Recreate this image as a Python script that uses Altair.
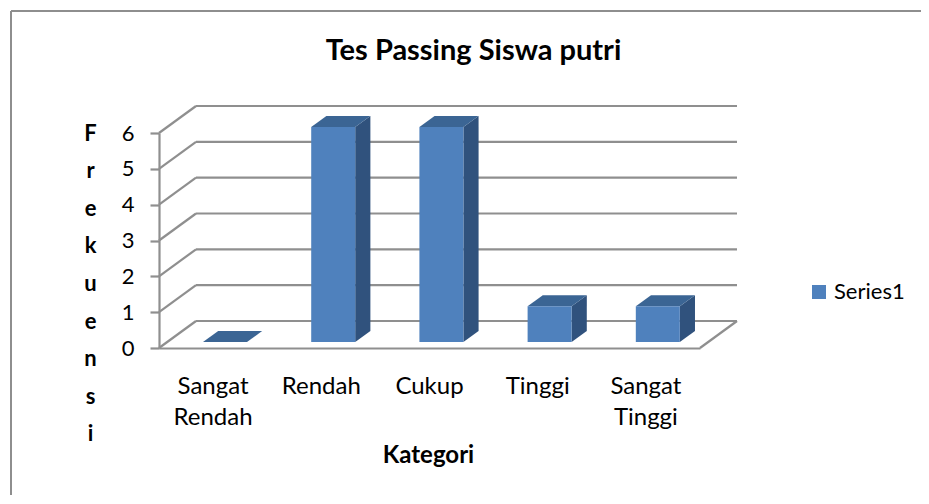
import altair as alt
import pandas as pd

# ---------------- data ----------------
categories = ["Sangat Rendah", "Rendah", "Cukup", "Tinggi", "Sangat Tinggi"]
label_text = ["Sangat\nRendah", "Rendah", "Cukup", "Tinggi", "Sangat\nTinggi"]
values = [0, 6, 6, 1, 1]
y_ticks = [0, 1, 2, 3, 4, 5, 6]
series_name = "Series1"
title_text = "Tes Passing Siswa putri"
y_title = "Frekuensi"
x_title = "Kategori"

# ---------------- 3D projection (in data units) ----------------
N = len(categories)
YMAX = max(y_ticks)
DX, DV = 0.342, 0.7535          # shift of the back wall (x units, value units)
D0, D1 = 0.22, 0.63             # bar front / back depth
BAR_OFF, BAR_W = 0.3315, 0.4067 # bar left offset and width in category units

FRONT = "#4f81bd"
SIDE = "#30527d"
TOP = "#3b6594"
GRID = "#8f8f8f"
FONT = "Lato"

xs = alt.Scale(domain=[0, N], nice=False, zero=False)
ys = alt.Scale(domain=[0, YMAX], nice=False, zero=False)

# gridlines / walls
grid_rows = []
for v in y_ticks:
    grid_rows.append(dict(x=DX, x2=N + DX, y=v + DV, y2=v + DV))
    grid_rows.append(dict(x=0, x2=DX, y=v, y2=v + DV))
grid_rows.append(dict(x=N, x2=N + DX, y=0, y2=DV))
grid_df = pd.DataFrame(grid_rows)

front_rows, side_rows, top_rows, lab_rows = [], [], [], []
for i, (c, v) in enumerate(zip(categories, values)):
    xl = i + BAR_OFF + D0 * DX
    xr = xl + BAR_W
    sh = (D1 - D0) * DX
    front_rows.append(dict(cat=c, xl=xl, xr=xr, yb=D0 * DV, yt=v + D0 * DV, series=series_name))
    if v > 0:
        side_rows.append(dict(cat=c, x=xr, top=v + D0 * DV, bot=D0 * DV))
        side_rows.append(dict(cat=c, x=xr + sh, top=v + D1 * DV, bot=D1 * DV))
    top_rows.append(dict(cat=c, y=v + D0 * DV, xa=xl, xb=xr))
    top_rows.append(dict(cat=c, y=v + D1 * DV, xa=xl + sh, xb=xr + sh))
    lab_rows.append(dict(cat=c, lx=i + 0.5, txt=label_text[i]))

front_df = pd.DataFrame(front_rows)
side_df = pd.DataFrame(side_rows)
top_df = pd.DataFrame(top_rows)
lab_df = pd.DataFrame(lab_rows)
one = pd.DataFrame({"a": [0]})

x_axis = alt.Axis(labels=False, ticks=False, grid=False, domainColor=GRID,
                  domainWidth=2.2, title=x_title, titleFont=FONT, titleFontSize=24,
                  titleFontWeight="bold", titleColor="black", titleX=269, titleY=114,
                  titleBaseline="alphabetic", titleAlign="center")
y_axis = alt.Axis(values=y_ticks, tickCount=len(y_ticks), grid=False, tickSize=9,
                  tickColor=GRID, tickWidth=2.2,
                  domainColor=GRID, domainWidth=2.2, labelFont=FONT, labelFontSize=22,
                  labelColor="black", labelPadding=16, labelBaseline="middle",
                  labelOverlap=False,
                  title=list(y_title), titleAngle=0, titleX=-69, titleY=7,
                  titleBaseline="alphabetic", titleAlign="center",
                  titleLineHeight=37.6, titleFont=FONT, titleFontSize=22,
                  titleFontWeight="bold", titleColor="black")

# ---------------- layers ----------------
border_left = alt.Chart(one).mark_rule(color="#8e8e8e", strokeWidth=2).encode(
    x=alt.value(-148), y=alt.value(-122), y2=alt.value(362))
border_top = alt.Chart(one).mark_rule(color="#8e8e8e", strokeWidth=2).encode(
    x=alt.value(-148), x2=alt.value(762), y=alt.value(-122))

grid = alt.Chart(grid_df).mark_rule(color=GRID, strokeWidth=2.2).encode(
    x=alt.X("x:Q", scale=xs, axis=x_axis),
    x2="x2:Q",
    y=alt.Y("y:Q", scale=ys, axis=y_axis),
    y2="y2:Q",
)

side = alt.Chart(side_df).mark_area(orient="vertical", color=SIDE).encode(
    x=alt.X("x:Q", scale=xs, axis=x_axis),
    y=alt.Y("top:Q", scale=ys, stack=None, axis=y_axis),
    y2="bot:Q",
    detail="cat:N",
)

top = alt.Chart(top_df).mark_area(orient="horizontal", color=TOP).encode(
    y=alt.Y("y:Q", scale=ys, axis=y_axis),
    x=alt.X("xa:Q", scale=xs, stack=None, axis=x_axis),
    x2="xb:Q",
    detail="cat:N",
)

front = alt.Chart(front_df).mark_rect().encode(
    x=alt.X("xl:Q", scale=xs, axis=x_axis),
    x2="xr:Q",
    y=alt.Y("yb:Q", scale=ys, axis=y_axis),
    y2="yt:Q",
    color=alt.Color("series:N",
                    scale=alt.Scale(domain=[series_name], range=[FRONT]),
                    legend=alt.Legend(orient="none", legendX=649, legendY=148, title=None,
                                      symbolType="square", symbolSize=196, symbolStrokeWidth=0,
                                      labelFont=FONT, labelFontSize=22, labelColor="black",
                                      labelOffset=4, padding=0)),
)

labels = alt.Chart(lab_df).mark_text(
    font=FONT, fontSize=24, color="black", align="center", baseline="alphabetic",
    lineBreak="\n", lineHeight=31,
).encode(x=alt.X("lx:Q", scale=xs, axis=x_axis), y=alt.value(261), text="txt:N")

title = alt.Chart(pd.DataFrame({"t": [title_text]})).mark_text(
    font=FONT, fontSize=29, fontWeight="bold", color="black", align="center",
    baseline="alphabetic",
).encode(x=alt.value(314.5), y=alt.value(-73), text="t:N")

chart = alt.layer(border_left, border_top, grid, side, top, front, labels, title).properties(
    width=541, height=215,
    padding={"left": 151, "top": 125, "right": 221, "bottom": 148},
    autosize=alt.AutoSizeParams(type="none"),
).configure_view(stroke=None)

chart.save("out.html", embed_options={"renderer": "svg", "actions": False})
